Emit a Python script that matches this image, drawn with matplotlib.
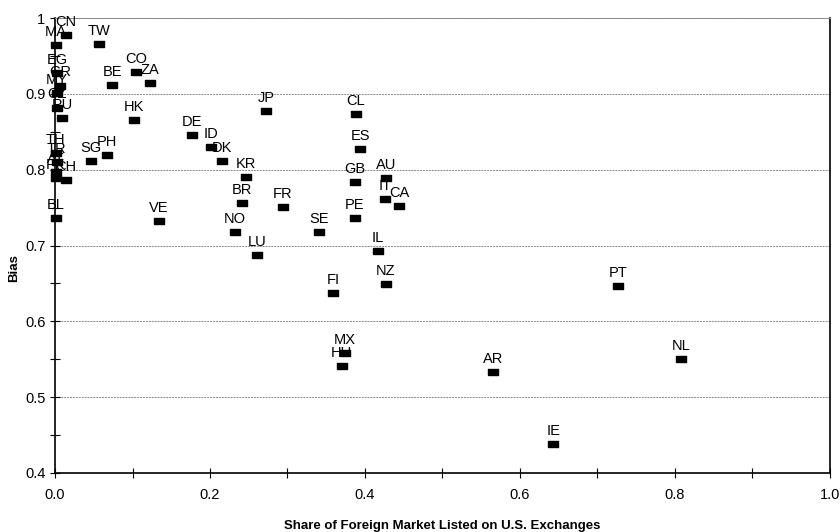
import matplotlib
matplotlib.use("Agg")
import matplotlib.pyplot as plt
from matplotlib.ticker import MultipleLocator, FuncFormatter

plt.rcParams['font.family'] = ['Liberation Sans', 'DejaVu Sans']

# country codes, share listed on US exchanges, bias
codes = ["CN", "MA", "TW", "EG", "GR", "MY", "CZ", "RU", "TH", "TR", "AT", "PK", "CH", "BL",
         "SG", "PH", "BE", "CO", "ZA", "HK", "DE", "ID", "DK", "KR", "JP", "CL", "ES", "GB",
         "AU", "IT", "CA", "PE", "SE", "FR", "BR", "NO", "LU", "VE", "IL", "NZ", "PT", "AR",
         "IE", "NL", "FI", "MX", "HU"]
share = [0.014, 0.001, 0.057, 0.003, 0.007, 0.002, 0.002, 0.009, 0.001, 0.002, 0.001, 0.001, 0.014, 0.001,
         0.046, 0.067, 0.074, 0.105, 0.123, 0.102, 0.177, 0.201, 0.215, 0.246, 0.272, 0.388, 0.394, 0.387,
         0.427, 0.426, 0.444, 0.387, 0.341, 0.294, 0.241, 0.232, 0.261, 0.134, 0.417, 0.427, 0.727, 0.565,
         0.643, 0.808, 0.359, 0.374, 0.370]
bias = [0.978, 0.964, 0.966, 0.927, 0.911, 0.901, 0.882, 0.868, 0.822, 0.810, 0.797, 0.789, 0.786, 0.736,
        0.811, 0.819, 0.912, 0.929, 0.914, 0.865, 0.846, 0.830, 0.811, 0.790, 0.877, 0.873, 0.827, 0.784,
        0.789, 0.761, 0.752, 0.736, 0.718, 0.751, 0.756, 0.718, 0.687, 0.732, 0.693, 0.649, 0.646, 0.533,
        0.438, 0.550, 0.637, 0.558, 0.541]

fig = plt.figure(figsize=(8.4, 5.32), dpi=100)
ax = fig.add_axes([0.0655, 0.111, 0.9225, 0.855])

rect = [(-1.5, -1), (1.5, -1), (1.5, 1), (-1.5, 1), (-1.5, -1)]
ax.plot(share, bias, linestyle="none", marker=rect, ms=6.5, color="black", clip_on=False, zorder=3)
for c, x, y in zip(codes, share, bias):
    ax.annotate(c, (x, y), xytext=(0, 9.5), textcoords="offset points",
                ha="center", va="center", fontsize=10.5, zorder=4)

ax.set_xlim(0, 1)
ax.set_ylim(0.4, 1.0)
ax.xaxis.set_major_locator(MultipleLocator(0.2))
ax.xaxis.set_minor_locator(MultipleLocator(0.1))
ax.yaxis.set_major_locator(MultipleLocator(0.1))
ax.yaxis.set_minor_locator(MultipleLocator(0.05))
ax.xaxis.set_major_formatter(FuncFormatter(lambda v, p: f"{v:.1f}"))
ax.yaxis.set_major_formatter(FuncFormatter(lambda v, p: "1" if abs(v - 1) < 1e-9 else f"{v:.1f}"))
ax.tick_params(which="both", direction="inout", length=7, width=0.8, labelsize=10.5)
ax.tick_params(axis="x", pad=7)
ax.grid(axis="y", which="major", color="#8a8a8a", linestyle=(0, (2, 1)), linewidth=0.7)
ax.set_axisbelow(True)
for s in ["left", "bottom", "right"]:
    ax.spines[s].set_linewidth(1.2)
ax.spines["top"].set_color("#8a8a8a")
ax.spines["top"].set_linewidth(0.7)

ax.set_xlabel("Share of Foreign Market Listed on U.S. Exchanges", fontsize=9.5, fontweight="bold", labelpad=13)
ax.set_ylabel("Bias", fontsize=9.5, fontweight="bold")
ax.yaxis.set_label_coords(-0.045, 0.45)

fig.savefig("out.png", dpi=100)
